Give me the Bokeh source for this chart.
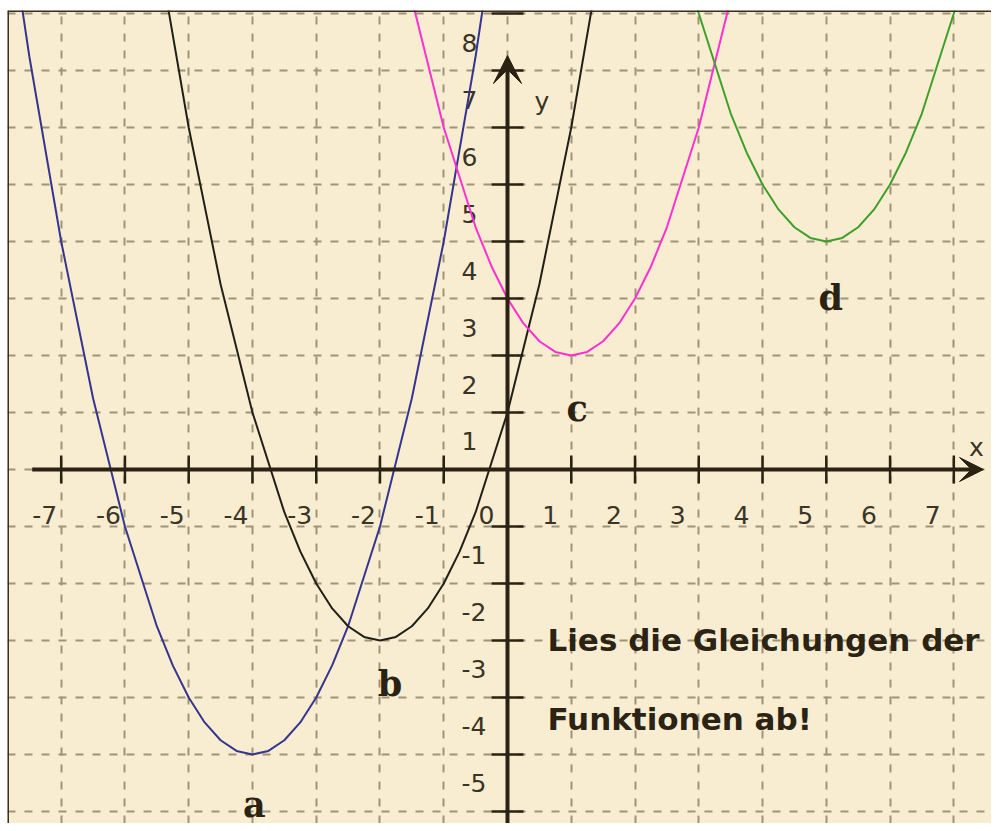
import numpy as np
from bokeh.plotting import figure
from bokeh.models import Range1d, FixedTicker, Grid, Arrow, VeeHead, Span
from bokeh.core.properties import value
from bokeh.embed import file_html
from bokeh.resources import INLINE

# ---- data ----
curve_names = ["a", "b", "c", "d"]
curve_colors = ["#35358f", "#221f18", "#ff2fd0", "#3f9f2a"]

a_x = [-8, -7.5, -7, -6.5, -6, -5.5, -5.25, -5, -4.75, -4.5, -4.25, -4, -3.75, -3.5, -3.25, -3, -2.75, -2.5, -2, -1.5, -1, -0.5, 0]
a_y = [11, 7.25, 4, 1.25, -1, -2.75, -3.4375, -4, -4.4375, -4.75, -4.9375, -5, -4.9375, -4.75, -4.4375, -4, -3.4375, -2.75, -1, 1.25, 4, 7.25, 11]

b_x = [-6, -5.5, -5, -4.5, -4, -3.5, -3.25, -3, -2.75, -2.5, -2.25, -2, -1.75, -1.5, -1.25, -1, -0.75, -0.5, 0, 0.5, 1, 1.5, 2]
b_y = [13, 9.25, 6, 3.25, 1, -0.75, -1.4375, -2, -2.4375, -2.75, -2.9375, -3, -2.9375, -2.75, -2.4375, -2, -1.4375, -0.75, 1, 3.25, 6, 9.25, 13]

c_x = [-2, -1.5, -1, -0.5, -0.25, 0, 0.25, 0.5, 0.75, 1, 1.25, 1.5, 1.75, 2, 2.25, 2.5, 3, 3.5, 4]
c_y = [11, 8.25, 6, 4.25, 3.5625, 3, 2.5625, 2.25, 2.0625, 2, 2.0625, 2.25, 2.5625, 3, 3.5625, 4.25, 6, 8.25, 11]

d_x = [2, 2.5, 3, 3.5, 3.75, 4, 4.25, 4.5, 4.75, 5, 5.25, 5.5, 5.75, 6, 6.25, 6.5, 7, 7.5, 8]
d_y = [13, 10.25, 8, 6.25, 5.5625, 5, 4.5625, 4.25, 4.0625, 4, 4.0625, 4.25, 4.5625, 5, 5.5625, 6.25, 8, 10.25, 13]

x_ticks = [-7, -6, -5, -4, -3, -2, -1, 1, 2, 3, 4, 5, 6, 7]
x_label_pos = [-7, -6, -5, -4, -3, -2, -1, 0, 1, 2, 3, 4, 5, 6, 7]
x_tick_labels = ["-7", "-6", "-5", "-4", "-3", "-2", "-1", "0", "1", "2", "3", "4", "5", "6", "7"]
y_ticks = [8, 7, 6, 5, 4, 3, 2, 1, -1, -2, -3, -4, -5, -6]
y_tick_labels = ["8", "7", "6", "5", "4", "3", "2", "1", "-1", "-2", "-3", "-4", "-5", "-6"]
x_grid = [-7, -6, -5, -4, -3, -2, -1, 0, 1, 2, 3, 4, 5, 6, 7]
y_grid = [-6, -5, -4, -3, -2, -1, 0, 1, 2, 3, 4, 5, 6, 7, 8]

task_lines = ["Lies die Gleichungen der", "Funktionen ab!"]

# ---- styling ----
BG = "#f8edd1"
INK = "#2a2212"
LABEL = "#3a3426"
GRID = "#9e9479"

X0, X1 = -7.842, 7.591
Y0, Y1 = -6.211, 8.053

p = figure(width=991, height=823,
           x_range=Range1d(X0, X1), y_range=Range1d(Y0, Y1),
           output_backend="svg", toolbar_location=None,
           x_axis_location=None, y_axis_location=None,
           min_border_left=7, min_border_right=0, min_border_top=10, min_border_bottom=0,
           background_fill_color=BG, border_fill_color="white",
           outline_line_color=None)
p.grid.visible = False

p.add_layout(Grid(dimension=0, ticker=FixedTicker(ticks=x_grid),
                  grid_line_color=GRID, grid_line_width=2, grid_line_dash="8 9"), "center")
p.add_layout(Grid(dimension=1, ticker=FixedTicker(ticks=y_grid),
                  grid_line_color=GRID, grid_line_width=2, grid_line_dash="8 9"), "center")

# frame border (top and left only visible in reference)
p.add_layout(Span(location=Y1, dimension="width", line_color="#3a3020", line_width=3))
p.add_layout(Span(location=X0, dimension="height", line_color="#3a3020", line_width=3))

# tick labels
p.text(x=x_label_pos, y=[0] * len(x_label_pos), text=x_tick_labels,
       x_offset=-29, y_offset=46, text_align="left", text_baseline="alphabetic",
       text_font=value("DejaVu Sans"), text_font_size="25px", text_color=LABEL)
p.text(x=[0] * len(y_ticks), y=y_ticks, text=y_tick_labels,
       x_offset=-46, y_offset=29, text_align="left", text_baseline="alphabetic",
       text_font=value("DejaVu Sans"), text_font_size="25px", text_color=LABEL)

# axis names
p.text(x=[7.238], y=[0.39], text=["x"], text_align="left", text_baseline="alphabetic",
       text_font=value("DejaVu Sans"), text_font_size="25px", text_color=LABEL)
p.text(x=[0.4235], y=[6.456], text=["y"], text_align="left", text_baseline="alphabetic",
       text_font=value("DejaVu Sans"), text_font_size="25px", text_color=LABEL)

# curves
curves = [(a_x, a_y), (b_x, b_y), (c_x, c_y), (d_x, d_y)]
for (cx, cy), col in zip(curves, curve_colors):
    p.line(cx, cy, line_color=col, line_width=2)

# axes with arrows
p.add_layout(Arrow(end=VeeHead(size=24, fill_color=INK, line_color=INK),
                   x_start=-7.455, y_start=0, x_end=7.466, y_end=0,
                   line_color=INK, line_width=4))
p.add_layout(Arrow(end=VeeHead(size=28, fill_color=INK, line_color=INK),
                   x_start=0, y_start=Y0, x_end=0, y_end=7.263,
                   line_color=INK, line_width=4))

# tick marks
p.scatter(x=x_ticks, y=[0] * len(x_ticks), marker="dash", size=28, angle=np.pi / 2,
          line_color=INK, line_width=2.5)
p.scatter(x=[0] * len(y_ticks), y=y_ticks, marker="dash", size=32,
          line_color=INK, line_width=2.5)

# curve names under each vertex
vx, vy = [], []
for cx, cy in curves:
    i = int(np.argmin(cy))
    vx.append(cx[i])
    vy.append(cy[i])
p.text(x=vx, y=vy, text=curve_names, x_offset=[2, 10, 6, 4.5], y_offset=[50, 43, 53, 56],
       text_align="center", text_baseline="alphabetic",
       text_font=value("DejaVu Serif"), text_font_style="bold", text_font_size="35px",
       text_color=INK)

# task text
p.text(x=[0.627, 0.627], y=[-3.0, -4.374], text=task_lines,
       text_align="left", text_baseline="alphabetic",
       text_font=value("DejaVu Sans"), text_font_style="bold", text_font_size="31px",
       text_color="#2b2313")

open("out.html", "w").write(file_html(p, INLINE))
